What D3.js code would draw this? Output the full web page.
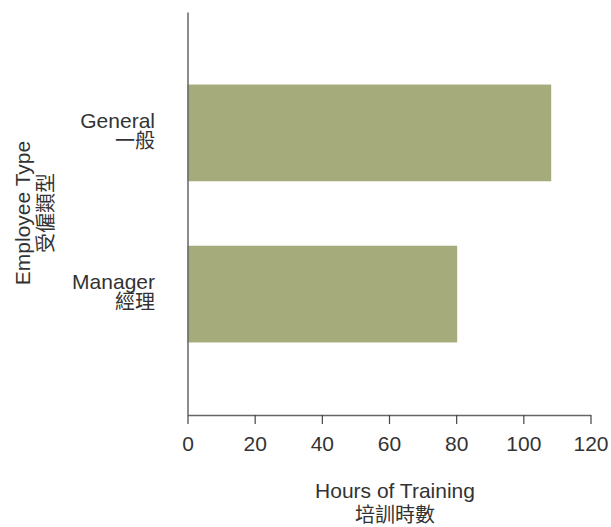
<!DOCTYPE html>
<html>
  <head>
    <meta charset="utf-8" />
    <script src="https://cdn.jsdelivr.net/npm/d3@7"></script>
    <style>
      body {
        margin: 0;
        padding: 0;
        background-color: #fff;
      }
      text {
        font-family: "Liberation Sans", "Noto Sans CJK TC", sans-serif;
        fill: #333;
      }
    </style>
  </head>
  <body>
    <div id="chart"></div>
    <script>
const categories = ["General", "Manager"];
const categoriesZh = ["一般", "經理"];
const hours = [108.3, 80.3];
const xTicks = [0, 20, 40, 60, 80, 100, 120];

const width = 611;
const height = 527;

const svg = d3
  .select("#chart")
  .append("svg")
  .attr("width", width)
  .attr("height", height);

const xScale = d3.scaleLinear().domain([0, 120]).range([187.5, 590.5]);
const yScale = d3
  .scaleBand()
  .domain(categories)
  .range([12, 415])
  .paddingInner(0.4)
  .paddingOuter(0.45);

// bars
svg
  .selectAll(".bar")
  .data(categories)
  .enter()
  .append("rect")
  .attr("class", "bar")
  .attr("x", xScale(0))
  .attr("y", d => yScale(d))
  .attr("width", (d, i) => xScale(hours[i]) - xScale(0))
  .attr("height", yScale.bandwidth())
  .attr("fill", "#a6ab7c");

// x axis
const xAxis = svg
  .append("g")
  .attr("transform", "translate(0, 415)")
  .call(
    d3.axisBottom(xScale)
      .tickValues(xTicks)
      .tickSize(9)
      .tickSizeOuter(0)
      .tickPadding(12)
  );
xAxis.select(".domain").attr("stroke", "#666").attr("stroke-width", 1.5);
xAxis.selectAll(".tick line").attr("stroke", "#444").attr("stroke-width", 1.2);
xAxis
  .selectAll(".tick text")
  .attr("fill", "#333")
  .style("font-size", "21px")
  .style("font-family", "'Liberation Sans', sans-serif");

// y axis (line only, labels drawn below)
const yAxis = svg
  .append("g")
  .attr("transform", "translate(187.5, 0)")
  .call(d3.axisLeft(yScale).tickSize(0).tickSizeOuter(0).tickFormat(""));
yAxis.select(".domain").attr("stroke", "#666").attr("stroke-width", 1.5);

// category labels, two lines each
const labels = svg
  .selectAll(".cat-label")
  .data(categories)
  .enter()
  .append("g")
  .attr("class", "cat-label")
  .attr("transform", d => `translate(155, ${yScale(d) + yScale.bandwidth() / 2})`);

labels
  .append("text")
  .attr("text-anchor", "end")
  .attr("y", -5)
  .style("font-size", "21px")
  .text(d => d);

labels
  .append("text")
  .attr("text-anchor", "end")
  .attr("y", 15)
  .style("font-size", "20px")
  .text((d, i) => categoriesZh[i]);

// x title
svg
  .append("text")
  .attr("x", 395)
  .attr("y", 498)
  .attr("text-anchor", "middle")
  .style("font-size", "21px")
  .text("Hours of Training");
svg
  .append("text")
  .attr("x", 395)
  .attr("y", 522)
  .attr("text-anchor", "middle")
  .style("font-size", "20px")
  .text("培訓時數");

// y title
svg
  .append("text")
  .attr("transform", "translate(30, 213) rotate(-90)")
  .attr("text-anchor", "middle")
  .style("font-size", "21px")
  .text("Employee Type");
svg
  .append("text")
  .attr("transform", "translate(53, 213) rotate(-90)")
  .attr("text-anchor", "middle")
  .style("font-size", "20px")
  .text("受僱類型");
    </script>
  </body>
</html>
